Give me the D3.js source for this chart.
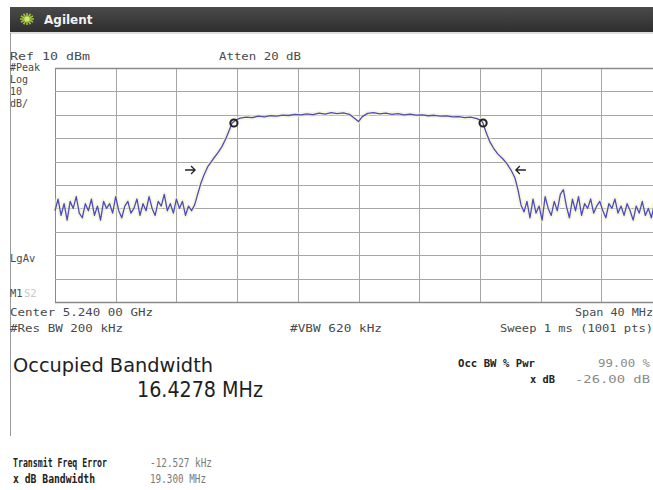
<!DOCTYPE html>
<html><head><meta charset="utf-8">
<script src="https://cdn.jsdelivr.net/npm/d3@7"></script>
<style>html,body{margin:0;padding:0;background:#fff;}svg{display:block;}</style>
</head><body>
<svg id="c" width="653" height="490"></svg>
<script>
// ---- data (offset from center 5.240 GHz, MHz ; level dBm) ----
const noiseLeftFreq = [-20,-19.8,-19.6,-19.4,-19.2,-19,-18.8,-18.6,-18.4,-18.2,-18,-17.8,-17.6,-17.4,-17.2,-17,-16.8,-16.6,-16.4,-16.2,-16,-15.8,-15.6,-15.4,-15.2,-15,-14.8,-14.6,-14.4,-14.2,-14,-13.8,-13.6,-13.4,-13.2,-13,-12.8,-12.6,-12.4,-12.2,-12,-11.8,-11.6,-11.4,-11.2,-11.0];
const noiseLeftLevel = [-51,-46,-53,-48,-55,-47,-50,-45,-52,-54,-48,-51,-46,-53,-49,-55,-47,-50,-48,-52,-45,-51,-54,-49,-47,-52,-50,-46,-53,-48,-51,-45,-50,-53,-47,-49,-44,-51,-48,-52,-46,-50,-47,-53,-49,-51];
const riseFreq  = [-10.8,-10.6,-10.4,-10.18,-9.92,-9.59,-9.26,-9.0,-8.73,-8.53,-8.34];
const riseLevel = [-48.5,-44.0,-39.5,-35.7,-32.0,-29.0,-26.2,-23.6,-20.0,-16.8,-13.6];
const plateauFreq  = [-8.07,-7.8,-7.4,-7.0,-6.6,-6.2,-5.8,-5.4,-5.0,-4.6,-4.2,-3.8,-3.4,-3.0,-2.6,-2.2,-1.8,-1.4,-1.0,-0.6,-0.25,0.0,0.25,0.6,1.0,1.4,1.8,2.2,2.6,3.0,3.4,3.8,4.2,4.6,5.0,5.4,5.8,6.2,6.6,7.0,7.4,7.8,8.1];
const plateauLevel = [-12.2,-11.4,-11.0,-11.2,-10.6,-10.9,-10.4,-10.6,-10.1,-10.3,-9.8,-10.0,-9.6,-9.9,-9.3,-9.7,-9.1,-9.5,-9.2,-9.8,-11.6,-12.9,-10.8,-9.4,-9.1,-9.6,-9.3,-9.8,-9.5,-10.0,-9.7,-10.1,-10.0,-10.4,-10.2,-10.6,-10.5,-10.9,-10.8,-11.2,-11.0,-11.6,-12.5];
const fallFreq  = [8.2,8.4,8.66,8.93,9.19,9.52,9.79,10.05,10.31,10.51,10.71,10.91];
const fallLevel = [-13.5,-17.4,-21.6,-24.6,-26.8,-28.9,-31.0,-33.6,-37.0,-42.1,-48.5,-51.5];
const noiseRightFreq = [11.1,11.3,11.5,11.7,11.9,12.1,12.3,12.5,12.7,12.9,13.1,13.3,13.5,13.7,13.9,14.1,14.3,14.5,14.7,14.9,15.1,15.3,15.5,15.7,15.9,16.1,16.3,16.5,16.7,16.9,17.1,17.3,17.5,17.7,17.9,18.1,18.3,18.5,18.7,18.9,19.1,19.3,19.5,19.7,19.9];
const noiseRightLevel = [-47,-54,-46,-52,-49,-55,-45,-50,-53,-47,-51,-44,-42,-49,-54,-46,-51,-45,-53,-48,-50,-46,-52,-49,-47,-51,-54,-48,-50,-46,-52,-49,-53,-48,-51,-55,-49,-52,-47,-53,-50,-54,-48,-52,-55];
const markerFreq  = [-8.21, 8.21];
const markerLevel = [-13.5, -13.5];
const arrowFreq   = [-11.1, 10.7];
const arrowLevel  = [-33.6, -33.6];
const arrowDir    = [1, -1];
const xTicksMHz = [-20,-16,-12,-8,-4,0,4,8,12,16,20];
const yTicksDbm = [10,0,-10,-20,-30,-40,-50,-60,-70,-80,-90];

// ---- build trace ----
const freqs = [].concat(noiseLeftFreq, riseFreq, plateauFreq, fallFreq, noiseRightFreq);
const levels = [].concat(noiseLeftLevel, riseLevel, plateauLevel, fallLevel, noiseRightLevel);
const trace = freqs.map((f,i)=>({f, v: levels[i]}));

const svg = d3.select("#c");
const mono = "'DejaVu Sans Mono', 'Liberation Mono', monospace";
const sans = "'Liberation Sans Narrow','DejaVu Sans Condensed','DejaVu Sans', sans-serif";

const x = d3.scaleLinear().domain([-20,20]).range([55,662]);
const y = d3.scaleLinear().domain([-90,10]).range([302,68]);

// header bar
const grad = svg.append("defs").append("linearGradient").attr("id","hb").attr("x1",0).attr("y1",0).attr("x2",0).attr("y2",1);
grad.append("stop").attr("offset","0%").attr("stop-color","#4a4a4a");
grad.append("stop").attr("offset","100%").attr("stop-color","#2e2e2e");
svg.append("rect").attr("x",10).attr("y",7).attr("width",643).attr("height",25).attr("fill","url(#hb)");
svg.append("line").attr("x1",10).attr("x2",653).attr("y1",33).attr("y2",33).attr("stroke","#bbb");
// logo starburst
const lg = svg.append("g").attr("transform","translate(27,19)");
d3.range(12).forEach(i=>{
  const a = i*Math.PI/6;
  lg.append("line").attr("x1",0).attr("y1",0).attr("x2",7*Math.cos(a)).attr("y2",6*Math.sin(a))
    .attr("stroke","#9cc23a").attr("stroke-width",1.6);
});
lg.append("circle").attr("r",2.5).attr("fill","#d8e86a");
svg.append("text").attr("x",44).attr("y",24).text("Agilent")
  .attr("font-family","'DejaVu Sans',sans-serif").attr("font-weight","bold").attr("font-size",12).attr("fill","#f2f2f2");

// left border
svg.append("line").attr("x1",10.5).attr("x2",10.5).attr("y1",33).attr("y2",436).attr("stroke","#9a9a9a");

// grid
const g = svg.append("g");
g.selectAll(".vg").data(xTicksMHz).enter().append("line")
  .attr("x1",d=>Math.round(x(d))+0.5).attr("x2",d=>Math.round(x(d))+0.5)
  .attr("y1",y(10)).attr("y2",y(-90))
  .attr("stroke",(d,i)=> i===0 ? "#8a8a8a" : "#a6a6a6").attr("stroke-width",1);
g.selectAll(".hg").data(yTicksDbm).enter().append("line")
  .attr("x1",x(-20)).attr("x2",653)
  .attr("y1",d=>Math.round(y(d))+0.5).attr("y2",d=>Math.round(y(d))+0.5)
  .attr("stroke",(d,i)=> (i===0||i===10) ? "#8a8a8a" : "#a6a6a6").attr("stroke-width",(d,i)=> (i===0||i===10)?1.4:1);

// trace halo (faint yellow) and trace
const line = d3.line().x(d=>x(d.f)).y(d=>y(d.v));
svg.append("path").datum(trace).attr("d",line).attr("fill","none")
  .attr("stroke","#f3f1c8").attr("stroke-width",5).attr("opacity",0.6).attr("stroke-linejoin","round");
svg.append("path").datum(trace).attr("d",line).attr("fill","none")
  .attr("stroke","#4b4bc4").attr("stroke-width",1.3).attr("stroke-linejoin","round");

// markers
markerFreq.forEach((f,i)=>{
  svg.append("circle").attr("cx",x(f)).attr("cy",y(markerLevel[i])).attr("r",3.6)
    .attr("fill","none").attr("stroke","#222").attr("stroke-width",2);
});
// arrows
arrowFreq.forEach((f,i)=>{
  const cx = x(f), cy = y(arrowLevel[i]), d = arrowDir[i];
  svg.append("path").attr("d",`M${cx-5*d},${cy} L${cx+5*d},${cy} M${cx+1*d},${cy-4} L${cx+5*d},${cy} L${cx+1*d},${cy+4}`)
    .attr("fill","none").attr("stroke","#222").attr("stroke-width",1.3);
});

// texts
function t(txt, xx, yy, opts={}){
  const el = svg.append("text").attr("x",xx).attr("y",yy).text(txt)
    .attr("font-family",opts.ff||mono).attr("font-size",opts.fs||11.5)
    .attr("fill",opts.fill||"#4a4a4a").attr("text-anchor",opts.anchor||"start")
    .attr("font-weight",opts.fw||"normal");
  if(opts.tl){ el.attr("textLength",opts.tl).attr("lengthAdjust","spacingAndGlyphs"); }
  return el;
}
t("Ref 10 dBm", 10, 60, {tl:80, fs:11});
t("Atten 20 dB", 219, 60, {tl:82, fs:11});
t("#Peak", 10, 71, {fs:10});
t("Log", 10, 83, {fs:10});
t("10", 10, 95, {fs:10});
t("dB/", 10, 107, {fs:10});
t("LgAv", 10, 262, {fs:10.5});
t("M1", 10, 297, {fs:10.5});
t("S2", 24, 297, {fill:"#c8c8c8", fs:10.5});
t("Center 5.240 00 GHz", 10, 316, {tl:143, fs:11});
t("#Res BW 200 kHz", 10, 332, {tl:113, fs:11});
t("#VBW 620 kHz", 290, 332, {tl:92, fs:11});
t("Span 40 MHz", 653, 316, {anchor:"end", tl:78, fs:11});
t("Sweep 1 ms (1001 pts)", 653, 332, {anchor:"end", tl:153, fs:11});

t("Occupied Bandwidth", 13, 372, {ff:sans, fs:20, fill:"#1e1e1e", tl:200});
t("16.4278 MHz", 137, 397, {ff:sans, fs:21, fill:"#1e1e1e", tl:126});
t("Occ BW % Pwr", 458, 367, {fw:"bold", fill:"#222", tl:77, fs:11});
t("99.00 %", 650, 367, {anchor:"end", fill:"#8a8a8a", fs:11, tl:52});
t("x dB", 530, 383, {fw:"bold", fill:"#222", fs:11, tl:25});
t("-26.00 dB", 650, 383, {anchor:"end", fill:"#8a8a8a", fs:11, tl:75});
t("Transmit Freq Error", 13, 467, {fw:"bold", fill:"#222", fs:12, tl:94});
t("-12.527 kHz", 150, 467, {fill:"#7a7a7a", fs:11.5, tl:62});
t("x dB Bandwidth", 13, 483, {fw:"bold", fill:"#222", fs:12, tl:82});
t("19.300 MHz", 150, 483, {fill:"#7a7a7a", fs:11.5, tl:56});
</script>
</body></html>
